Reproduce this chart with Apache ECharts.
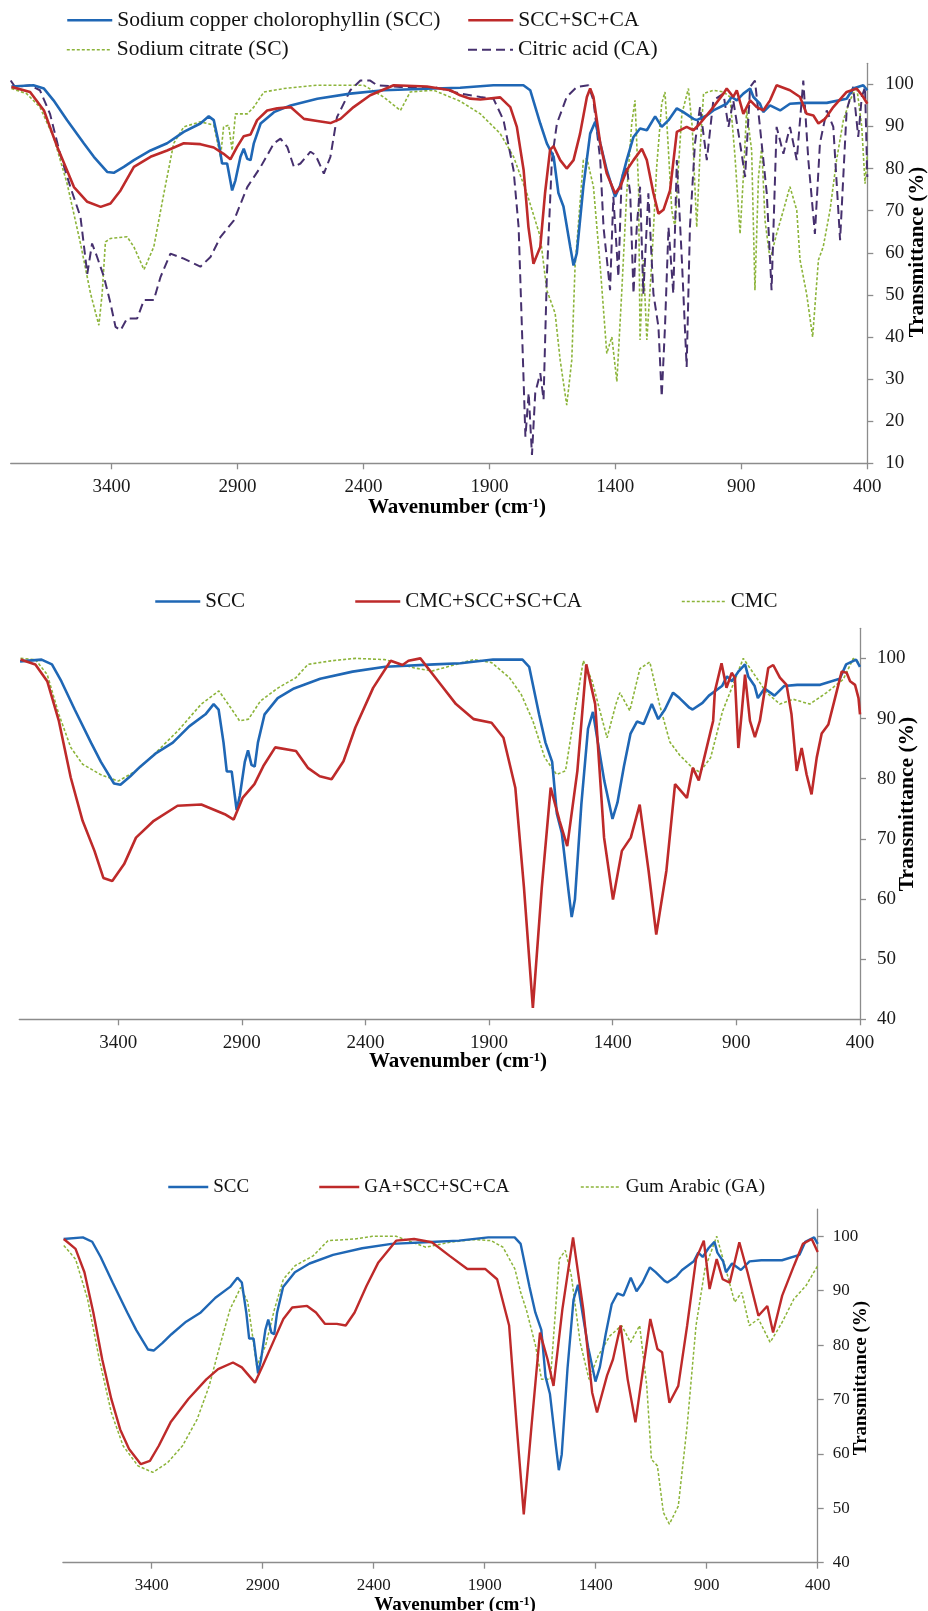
<!DOCTYPE html>
<html>
<head>
<meta charset="utf-8">
<script src="https://cdn.jsdelivr.net/npm/echarts@6/dist/echarts.min.js"></script>
<style>html,body{margin:0;padding:0;background:#fff}#c{width:928px;height:1611px}</style>
</head>
<body>
<div id="c"></div>
<script>
// ---------- DATA (wavenumber cm-1, transmittance %) ----------
const xTicks = [400, 900, 1400, 1900, 2400, 2900, 3400];
const yTicks1 = [10, 20, 30, 40, 50, 60, 70, 80, 90, 100];
const yTicks2 = [40, 50, 60, 70, 80, 90, 100];

const namesP1 = ['Sodium copper cholorophyllin (SCC)', 'SCC+SC+CA', 'Sodium citrate (SC)', 'Citric acid (CA)'];
const namesP2 = ['SCC', 'CMC+SCC+SC+CA', 'CMC'];
const namesP3 = ['SCC', 'GA+SCC+SC+CA', 'Gum Arabic (GA)'];

const scc = [[3797,99.5],[3710,99.8],[3668,99],[3630,96.2],[3576,91.5],[3510,86],[3470,82.8],[3417,79.2],[3391,79],[3351,80.4],[3311,82],[3245,84.3],[3179,86],[3113,88.7],[3047,90.7],[3014,92.4],[2994,91.5],[2974,86],[2961,81.2],[2941,81.2],[2921,74.8],[2908,77.2],[2888,82.8],[2875,84.7],[2861,82.3],[2848,82],[2835,86],[2808,90.7],[2755,93.4],[2689,95],[2583,96.6],[2452,97.8],[2320,98.6],[2121,99],[2016,99.2],[1884,99.8],[1765,99.8],[1738,98.6],[1698,90.7],[1672,86],[1645,82.8],[1626,74.2],[1606,71],[1579,61.4],[1566,57],[1553,59.9],[1527,75.7],[1500,88.3],[1480,91.1],[1460,86],[1434,79.6],[1401,73.3],[1381,76],[1355,82],[1328,87.5],[1302,89.5],[1275,89.1],[1242,92.4],[1216,89.9],[1189,91.5],[1156,94.3],[1130,93.4],[1090,91.8],[1077,91.5],[1037,92.6],[1011,93.8],[958,95.4],[938,97],[918,96.2],[892,97.8],[865,99],[852,97],[826,95.4],[813,93.4],[786,95],[746,93.8],[707,95.4],[654,95.6],[561,95.6],[482,96.6],[456,99],[416,99.8],[400,98.6]];

const sccScCa = [[3797,99.4],[3723,98.2],[3668,93.8],[3615,85.1],[3549,75.6],[3496,72.1],[3443,70.9],[3404,71.7],[3364,74.8],[3311,80.4],[3245,82.8],[3179,84.3],[3113,86],[3047,85.8],[2994,85],[2955,83.5],[2928,82.2],[2902,85.1],[2875,87.7],[2848,88.1],[2822,91.5],[2782,93.8],[2742,94.3],[2689,94.6],[2636,91.8],[2583,91.3],[2531,90.8],[2491,91.8],[2439,94.6],[2373,97.4],[2280,99.8],[2148,99.5],[2055,98.6],[2016,97.4],[1976,96.6],[1936,96.4],[1857,96.9],[1817,94.6],[1791,89.9],[1764,79.6],[1745,66.1],[1725,57.4],[1698,61.4],[1679,74.2],[1659,84.5],[1645,85.3],[1619,82],[1593,80],[1566,82],[1540,88.3],[1513,97],[1500,99],[1487,97],[1460,86],[1434,78.8],[1401,74.1],[1381,75.6],[1355,79.6],[1328,82],[1295,84.7],[1275,82],[1249,74.2],[1229,69.3],[1209,70.2],[1183,74.8],[1156,88.7],[1117,89.9],[1090,89.1],[1064,90.7],[1011,94.6],[971,97.8],[958,99],[932,97],[918,98.6],[892,93],[865,96.2],[839,94.6],[813,93.8],[786,96.2],[760,99.8],[707,98.6],[667,97],[641,93],[614,92.6],[594,90.7],[568,91.8],[535,94.6],[482,98.2],[442,99],[416,97],[400,95.4]];

const sc = [[3797,99],[3737,97.8],[3684,94.6],[3630,87.5],[3576,76.4],[3523,62.2],[3483,50.3],[3450,42.8],[3437,50.3],[3424,62.6],[3404,63.4],[3338,63.8],[3311,61.4],[3271,56],[3232,61.4],[3192,74.1],[3153,86],[3113,89.9],[3047,91.1],[2994,90.3],[2967,82.8],[2955,89.9],[2935,90.3],[2921,84.3],[2908,93],[2861,93],[2835,94.6],[2795,98.2],[2716,99],[2583,99.8],[2399,99.8],[2320,97],[2253,93.8],[2214,98.2],[2121,98.6],[2016,96],[1936,93],[1857,88.3],[1804,82.8],[1751,74.1],[1698,63.8],[1672,51.1],[1639,45.6],[1619,34.5],[1593,23.8],[1573,34.5],[1560,56.7],[1527,82],[1513,82.4],[1487,75.7],[1460,56.7],[1434,36.1],[1414,40],[1394,29.4],[1375,50.3],[1355,74.1],[1335,90.7],[1322,96.2],[1308,75.7],[1302,39.3],[1289,58.3],[1275,39.3],[1255,58.3],[1236,80.4],[1216,95.4],[1203,98.2],[1190,85],[1176,70],[1163,66.1],[1150,80],[1136,93],[1110,99],[1095,90],[1077,66.1],[1063,85],[1050,97.8],[1011,98.6],[971,98.2],[945,97],[925,82.8],[905,64.5],[892,78],[879,93.8],[859,84.3],[846,51.1],[832,78],[819,85.1],[806,67.7],[786,58.3],[760,64.5],[733,70.1],[707,75.7],[680,70.1],[667,58.3],[641,50.3],[617,40],[594,58.3],[575,61.4],[548,70.1],[522,82],[495,91.5],[469,96.2],[442,99.4],[422,89.9],[409,76.4],[400,83.5]];

const ca = [[3800,100.9],[3783,99.4],[3723,99.8],[3684,98.6],[3644,93],[3604,83.5],[3563,75.6],[3523,68.5],[3496,55],[3477,62.2],[3457,59],[3430,54.3],[3404,48],[3384,42.4],[3364,41.6],[3338,44.4],[3298,44.4],[3271,48.8],[3232,48.8],[3205,54.3],[3166,59.8],[3113,58.6],[3047,56.7],[3007,59],[2967,63.8],[2914,67.7],[2861,75.6],[2808,80.4],[2755,86],[2729,87.1],[2702,85.1],[2676,80.4],[2650,81.2],[2610,84],[2590,83.2],[2557,78.8],[2531,82.8],[2505,92.2],[2452,98.6],[2412,100.9],[2373,100.9],[2346,99.8],[2253,99.4],[2121,99.4],[2016,97.8],[1936,97],[1884,96.6],[1844,91.5],[1804,79.6],[1784,66.1],[1771,42.4],[1757,16.3],[1744,26.7],[1731,12],[1718,26.7],[1698,31.4],[1685,25.1],[1672,54.3],[1652,82],[1632,90.7],[1593,97],[1553,99.4],[1507,99.8],[1487,96.2],[1460,82],[1447,66.1],[1421,51.1],[1408,73.3],[1388,54.3],[1375,78],[1355,80.4],[1341,74.1],[1328,50.3],[1315,66.1],[1302,75.7],[1289,50.3],[1269,74.1],[1249,50.3],[1229,42.4],[1216,25.8],[1203,42.4],[1189,66.1],[1170,50.3],[1156,82],[1136,58.3],[1117,32.9],[1104,66.1],[1084,86],[1064,94.6],[1037,82],[1011,96.2],[971,97.8],[951,89.9],[932,96.2],[905,86],[885,78],[865,99.4],[846,100.9],[826,89.9],[799,74.1],[780,51.1],[760,89.9],[733,83.5],[707,89.9],[680,82],[654,100.9],[634,82],[608,64.5],[588,86],[561,93.8],[535,89.9],[508,63],[482,93.8],[456,99.4],[436,87.5],[422,97],[409,99.4],[400,78]];

const cmcMix = [[3795,99.8],[3735,99],[3687,96.2],[3640,89.6],[3592,80.2],[3544,73],[3496,68],[3460,63.5],[3424,63],[3376,65.8],[3328,70.2],[3256,73],[3160,75.5],[3064,75.7],[2969,74.1],[2933,73.2],[2897,76.8],[2849,79.1],[2813,82.1],[2765,85.2],[2681,84.6],[2633,81.8],[2585,80.4],[2537,79.9],[2489,82.9],[2441,88.5],[2369,95.1],[2298,99.6],[2250,98.9],[2226,99.6],[2178,100],[2106,96.2],[2034,92.4],[1962,89.9],[1890,89.3],[1842,86.8],[1794,78.5],[1759,61.9],[1723,41.9],[1687,61.9],[1651,78.5],[1615,73],[1584,68.8],[1543,81.3],[1507,99],[1471,92.4],[1435,70.2],[1399,59.9],[1363,68],[1327,70.2],[1291,75.7],[1255,64.7],[1224,54.1],[1183,64.7],[1148,79.1],[1100,76.8],[1076,81.8],[1052,79.7],[1004,87.9],[994,89.6],[987,94.5],[960,99.2],[940,95.1],[919,97.6],[906,96.8],[892,85.1],[879,90.7],[865,97.3],[845,89.6],[825,86.9],[805,89.6],[771,98.4],[751,98.9],[724,96.8],[697,95.6],[677,90.7],[656,81.3],[636,85.1],[616,80.7],[596,77.4],[575,83.5],[555,87.5],[528,89],[501,93.4],[474,97.8],[454,97.6],[440,96.2],[420,95.6],[406,93.4],[400,90.7]];

const cmc = [[3795,100],[3735,99.8],[3687,97.3],[3640,90.7],[3592,85.2],[3544,82.4],[3472,80.7],[3400,79.6],[3328,81.3],[3256,84],[3160,87.9],[3064,92.4],[2993,94.6],[2945,91.8],[2909,89.6],[2873,89.9],[2825,92.9],[2753,95.1],[2681,96.8],[2633,99],[2537,99.6],[2441,100],[2322,99.8],[2202,98.4],[2130,97.9],[2034,99],[1962,99.8],[1890,99.3],[1818,96.8],[1770,94],[1723,89.6],[1675,83.5],[1627,80.7],[1591,81.3],[1555,90.7],[1519,99.6],[1483,96.2],[1459,92.4],[1423,86.8],[1387,92.4],[1371,94.3],[1331,91.3],[1290,98.3],[1250,99.4],[1210,92.2],[1169,86.1],[1129,83.9],[1075,81.7],[1048,81.1],[1004,83.5],[956,91.2],[926,94.3],[872,100],[832,97.6],[778,94.3],[724,92.4],[670,93.2],[603,92.4],[535,94.3],[468,96.5],[427,100],[400,99.2]];

const gaMix = [[3796,99.5],[3743,97.7],[3703,93.4],[3663,86],[3623,77.4],[3582,70.1],[3542,64.5],[3502,60.9],[3449,58.1],[3408,58.7],[3368,61.5],[3315,65.8],[3235,70.1],[3154,73.7],[3101,75.6],[3034,76.8],[2994,75.9],[2935,73.1],[2900,76.2],[2847,81.1],[2807,84.8],[2767,86.9],[2700,87.2],[2660,86],[2619,83.9],[2566,83.9],[2526,83.6],[2486,86],[2432,90.9],[2379,95.2],[2299,99.2],[2218,99.5],[2138,98.9],[2058,96.4],[1978,94],[1898,94],[1844,92.1],[1790,83.6],[1756,65.2],[1724,48.9],[1689,65.2],[1651,82.3],[1617,77.4],[1590,72.5],[1550,86.6],[1502,99.8],[1456,86.6],[1416,71.3],[1394,67.6],[1349,74.4],[1322,77.4],[1288,83.6],[1256,73.7],[1221,65.8],[1189,74.9],[1154,84.8],[1122,79.3],[1101,78.7],[1068,69.4],[1028,72.5],[988,83.6],[948,95.8],[913,99.2],[887,90.3],[855,95.8],[828,92.1],[796,91.5],[753,98.9],[716,93.4],[667,85.4],[627,87.2],[601,82.3],[560,89.1],[507,94.6],[467,98.6],[427,99.5],[400,97.1]];

const ga = [[3796,98.3],[3743,95.8],[3689,88.5],[3636,77.4],[3582,67.6],[3529,61.5],[3462,57.8],[3395,56.6],[3328,58.4],[3261,61.5],[3195,66.4],[3141,72.5],[3101,78.7],[3047,86.6],[2999,90.6],[2967,87.9],[2927,76.2],[2887,79.9],[2847,86.6],[2807,92.1],[2754,94.6],[2673,96.4],[2606,99.2],[2486,99.5],[2406,100],[2299,100],[2165,98],[2058,98.9],[1951,99.4],[1871,99.2],[1818,98],[1764,94],[1738,89.7],[1711,86.3],[1671,79.9],[1644,73.7],[1604,73.7],[1564,95.8],[1537,97.4],[1510,92.8],[1470,80.5],[1430,73.7],[1389,78],[1336,81.7],[1283,83.6],[1243,80.5],[1202,83.6],[1170,72.5],[1149,59],[1122,57.8],[1095,49.2],[1068,47.1],[1028,50.4],[988,65.2],[948,83.6],[908,94],[855,100],[814,94],[774,87.9],[742,89.7],[708,83.6],[667,84.8],[614,80.5],[560,84.2],[507,88.5],[453,90.9],[400,94.6]];

// ---------- STYLE ----------
const FF = 'Liberation Serif';
const C_BLUE = '#1f67b5', C_RED = '#be2a2a', C_GREEN = '#8cb43a', C_PURPLE = '#46306e';
const AX = '#8c8c8c';
const plain = v => String(v);

function xAx(gi, fs) {
  return {
    type: 'value', gridIndex: gi, min: 400, max: 3800, inverse: true,
    axisLine: {show: true, onZero: false, lineStyle: {color: AX, width: 1.3}},
    axisTick: {show: true, inside: false, length: 6, customValues: xTicks, lineStyle: {color: AX, width: 1.3}},
    axisLabel: {customValues: xTicks, formatter: plain, margin: 14, fontFamily: FF, fontSize: fs, color: '#1a1a1a'},
    splitLine: {show: false}
  };
}
function yAx(gi, min, ticks, fs, margin) {
  return {
    type: 'value', gridIndex: gi, position: 'right', min: min, max: 105,
    axisLine: {show: true, onZero: false, lineStyle: {color: AX, width: 1.3}},
    axisTick: {show: true, inside: false, length: 6, customValues: ticks, lineStyle: {color: AX, width: 1.3}},
    axisLabel: {customValues: ticks, formatter: plain, margin: margin, fontFamily: FF, fontSize: fs, color: '#1a1a1a'},
    splitLine: {show: false}
  };
}
function ln(name, data, gi, color, width, type, z) {
  return {
    type: 'line', name: name, data: data, xAxisIndex: gi, yAxisIndex: gi,
    symbol: 'none', showSymbol: false, smooth: false, animation: false, z: z || 2,
    lineStyle: {color: color, width: width, type: type || 'solid'},
    itemStyle: {color: color}
  };
}
function lg(name, left, cy, fs, w, lw) {
  return {
    data: [name], left: left, top: cy - fs / 2 - 1, itemWidth: w, itemHeight: 12, itemGap: 0, padding: 0,
    textStyle: {fontFamily: FF, fontSize: fs, color: '#111'},
    itemStyle: {opacity: 0, borderWidth: 0},
    lineStyle: {width: lw}
  };
}
function xTitle(cx, cy, fs) {
  return {
    type: 'text', x: cx, y: cy, silent: true,
    style: {
      text: '{a|Wavenumber (cm}{s|-1}{a|)}', align: 'center', verticalAlign: 'middle',
      rich: {
        a: {fontFamily: FF, fontSize: fs, fontWeight: 'bold', fill: '#000'},
        s: {fontFamily: FF, fontSize: Math.round(fs * 0.62), fontWeight: 'bold', fill: '#000', verticalAlign: 'top'}
      }
    }
  };
}
function yTitle(cx, cy, fs) {
  return {
    type: 'text', x: cx, y: cy, rotation: Math.PI / 2, silent: true,
    style: {text: 'Transmittance (%)', align: 'center', verticalAlign: 'middle',
      fontFamily: FF, fontSize: fs, fontWeight: 'bold', fill: '#000'}
  };
}

const option = {
  backgroundColor: '#fff',
  animation: false,
  grid: [
    {left: 10.7, top: 63.3, width: 856.6, height: 400},
    {left: 19.3, top: 628.3, width: 840.7, height: 391},
    {left: 62.9, top: 1209.1, width: 754.8, height: 353.6}
  ],
  xAxis: [xAx(0, 19), xAx(1, 19), xAx(2, 17)],
  yAxis: [yAx(0, 10, yTicks1, 19, 18), yAx(1, 40, yTicks2, 19, 17), yAx(2, 40, yTicks2, 17, 15)],
  legend: [
    lg(namesP1[0], 66, 21, 21.5, 45, 2.5),
    lg(namesP1[1], 467, 21, 21.5, 45, 2.5),
    lg(namesP1[2], 66, 50.5, 21.5, 45, 1.6),
    lg(namesP1[3], 467, 50.5, 21.5, 45, 2),
    lg(namesP2[0], 154, 602.5, 21, 45, 2.5),
    lg(namesP2[1], 354, 602.5, 21, 45, 2.5),
    lg(namesP2[2], 681, 602.5, 21, 44, 1.6),
    lg(namesP3[0], 167, 1188, 19, 40, 2.5),
    lg(namesP3[1], 318, 1188, 19, 40, 2.5),
    lg(namesP3[2], 580, 1188, 19, 40, 1.6)
  ],
  graphic: [
    xTitle(457, 508, 21), xTitle(458, 1061.5, 21), xTitle(455, 1605, 19),
    yTitle(918, 252, 21), yTitle(907, 804, 21.5), yTitle(861, 1378, 19)
  ],
  series: [
    ln(namesP1[0], scc, 0, C_BLUE, 2.6, 'solid', 4),
    ln(namesP1[1], sccScCa, 0, C_RED, 2.6, 'solid', 5),
    ln(namesP1[2], sc, 0, C_GREEN, 1.6, [3, 2], 2),
    ln(namesP1[3], ca, 0, C_PURPLE, 2, [9, 5], 3),
    ln(namesP2[0], scc, 1, C_BLUE, 2.6, 'solid', 4),
    ln(namesP2[1], cmcMix, 1, C_RED, 2.6, 'solid', 5),
    ln(namesP2[2], cmc, 1, C_GREEN, 1.6, [3, 2], 3),
    ln(namesP3[0], scc, 2, C_BLUE, 2.4, 'solid', 4),
    ln(namesP3[1], gaMix, 2, C_RED, 2.4, 'solid', 5),
    ln(namesP3[2], ga, 2, C_GREEN, 1.5, [3, 2], 3)
  ]
};
const chart = echarts.init(document.getElementById('c'), null, {renderer: 'canvas'});
chart.setOption(option);
</script>
</body>
</html>
